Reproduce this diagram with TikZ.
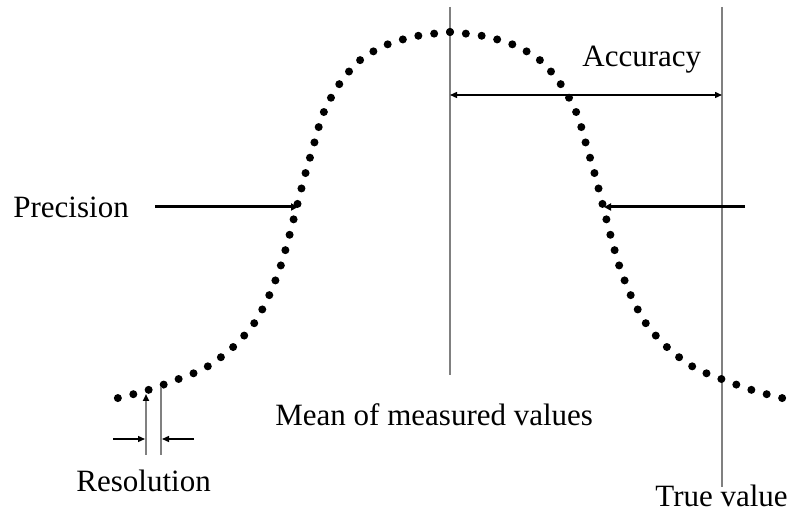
\documentclass[tikz,border=0pt]{standalone}
\usepackage{fontspec}
\setmainfont{Liberation Serif}
\usetikzlibrary{arrows.meta}
\definecolor{cLine}{HTML}{808080}
\definecolor{cInk}{HTML}{000000}
\tikzset{
  guide-line/.style={draw=cLine,line width=1pt},
  dim-arrow/.style={-{Triangle[length=3.5pt,width=3pt]},line width=0.7pt,draw=cInk},
  dim-arrow-both/.style={{Triangle[length=3.5pt,width=3pt]}-{Triangle[length=3.5pt,width=3pt]},
    line width=0.7pt,draw=cInk},
  pointer-arrow/.style={-{Triangle[length=3.5pt,width=3.5pt]},line width=1.5pt,draw=cInk},
  label-text/.style={inner sep=0pt,anchor=base west,font=\fontsize{15.5}{18}\selectfont},
  dot-curve/.style={draw=cInk,line width=4pt,line cap=round,
    dash pattern=on 0pt off 7.97pt},
}
\begin{document}
\begin{tikzpicture}[x=0.5pt,y=-0.5pt]
  \useasboundingbox (0,0) rectangle (788,518);
  % guide lines
  \coordinate (mean-top) at (450,7);
  \coordinate (mean-bot) at (450,375);
  \coordinate (true-top) at (722,7);
  \coordinate (true-bot) at (722,487);
  \draw[guide-line] (mean-top) -- (mean-bot);
  \draw[guide-line] (true-top) -- (true-bot);
  % dotted curve, mirrored about the mean
  \foreach \s in {1,-1}{
    \begin{scope}[shift={(mean-top)},xscale=\s]
      \draw[dot-curve] plot[smooth] coordinates {
        (0,25) (33,29) (64,38) (91,54) (112,79) (127,107) (136,137) (145,168)
        (153,199) (161,230) (170,261) (182,291) (197,318) (219,342) (245,361)
        (274,373) (305,384) (336,392)};
    \end{scope}
  }
  % accuracy
  \coordinate (acc-l) at (450,95);
  \coordinate (acc-r) at (722,95);
  \draw[dim-arrow-both] (acc-l) -- (acc-r);
  \node[label-text] (acc-lbl) at (582,67) {Accuracy};
  % precision
  \node[label-text] (prec-lbl) at (13,218) {Precision};
  \coordinate (prec-l-from) at (155,207);
  \coordinate (prec-l-to) at (298,207);
  \coordinate (prec-r-from) at (745,207);
  \coordinate (prec-r-to) at (604,207);
  \draw[pointer-arrow] (prec-l-from) -- (prec-l-to);
  \draw[pointer-arrow] (prec-r-from) -- (prec-r-to);
  % resolution
  \coordinate (res-a-top) at (146,394);
  \coordinate (res-a-bot) at (146,455);
  \coordinate (res-b-top) at (161,387);
  \coordinate (res-b-bot) at (161,455);
  \draw[guide-line,-{Triangle[length=3.5pt,width=3pt,color=cInk]}] (res-a-bot) -- (res-a-top);
  \draw[guide-line] (res-b-bot) -- (res-b-top);
  \coordinate (res-l-from) at (113,439);
  \coordinate (res-l-to) at (145,439);
  \coordinate (res-r-from) at (194,439);
  \coordinate (res-r-to) at (162,439);
  \draw[dim-arrow] (res-l-from) -- (res-l-to);
  \draw[dim-arrow] (res-r-from) -- (res-r-to);
  \node[label-text] (res-lbl) at (76,492) {Resolution};
  % bottom labels
  \node[label-text] (mean-lbl) at (275,426) {Mean of measured values};
  \node[label-text] (true-lbl) at (655,507) {True value};
\end{tikzpicture}
\end{document}
